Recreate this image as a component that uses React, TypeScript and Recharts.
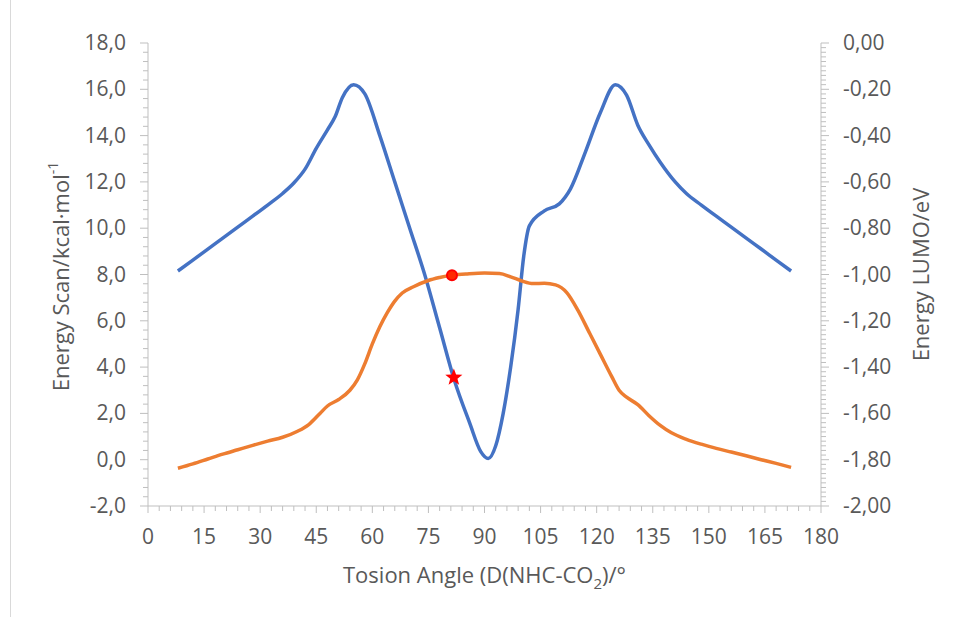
import React from "react";
import {ComposedChart, Line, Scatter, XAxis, YAxis} from "recharts";

// energy scan (left axis), kcal/mol
const scanAngles = [8, 12, 16, 20, 24, 28, 32, 36, 39, 42, 45, 48, 50, 52, 55, 58, 62, 66, 70, 74, 78, 82, 86, 89, 91, 93, 95, 97, 99, 100.5, 102, 106, 110, 113, 117, 121, 125, 128, 131, 134, 137, 141, 144, 148, 152, 156, 160, 164, 168, 172];
const scanEnergy = [8.15, 8.62, 9.1, 9.57, 10.05, 10.52, 11.0, 11.5, 11.95, 12.55, 13.45, 14.25, 14.8, 15.65, 16.2, 15.8, 14.0, 12.0, 10.0, 8.0, 5.7, 3.4, 1.6, 0.35, 0.05, 0.6, 2.0, 4.0, 6.5, 8.8, 10.1, 10.75, 11.05, 11.7, 13.3, 15.0, 16.2, 15.75, 14.45, 13.6, 12.85, 12.0, 11.5, 11.0, 10.52, 10.05, 9.57, 9.1, 8.62, 8.15];

// LUMO energy (right axis), eV
const lumoAngles = [8, 12, 16, 20, 24, 28, 32, 36, 40, 43, 46, 48, 51, 54, 56, 58, 60, 62, 64, 66, 68, 71, 75, 78, 81, 85, 90, 94, 97, 100, 103, 106, 109, 112, 115, 118, 121, 124, 126, 128, 131, 134, 137, 140, 144, 148, 152, 156, 160, 164, 168, 172];
const lumoEnergy = [-1.837, -1.818, -1.797, -1.776, -1.757, -1.738, -1.72, -1.703, -1.677, -1.648, -1.6, -1.568, -1.54, -1.5, -1.455, -1.385, -1.3, -1.226, -1.165, -1.115, -1.08, -1.053, -1.026, -1.013, -1.003, -0.998, -0.994, -0.996, -1.01, -1.028, -1.039, -1.038, -1.045, -1.078, -1.155, -1.25, -1.345, -1.44, -1.5, -1.53, -1.562, -1.61, -1.652, -1.684, -1.712, -1.733, -1.751, -1.767, -1.783, -1.8, -1.816, -1.833];

// highlighted points
const starPoint = [{angle: 81.8, energy: 3.55}];
const circlePoint = [{angle: 81.3, lumo: -1.003}];

const scanData = scanAngles.map((a, i) => ({angle: a, energy: scanEnergy[i]}));
const lumoData = lumoAngles.map((a, i) => ({angle: a, lumo: lumoEnergy[i]}));

const range = (start: number, step: number, n: number) =>
    Array.from({length: n}, (_, i) => Math.round((start + i * step) * 1000) / 1000);

const xTicks = range(0, 3, 61);
const leftTicks = range(-2, 0.4, 51);
const rightTicks = range(-2, 0.02, 101);

const isMajor = (v: number, step: number) => Math.abs(v / step - Math.round(v / step)) < 1e-6;

const AXIS = "#bfbfbf";
const TEXT = "#595959";
const FONT = "'Open Sans', sans-serif";
const GAP = 22;
const TICK_FS = 21;
const TITLE_FS = 22;

const fmt = (v: number, d: number) => (Math.abs(v) < 1e-9 ? 0 : v).toFixed(d).replace(".", ",");

const LeftTick = (props: any) => {
    const {x, y, payload} = props;
    const v = payload.value;
    const major = isMajor(v, 2);
    const ax = x + GAP;
    return (
        <g>
            <line x1={ax} x2={ax - (major ? 8 : 5)} y1={y} y2={y} stroke={AXIS}/>
            {major && <text x={x} y={y} dy={7} textAnchor="end" fill={TEXT} fontSize={TICK_FS} fontFamily={FONT}>{fmt(v, 1)}</text>}
        </g>
    );
};

const RightTick = (props: any) => {
    const {x, y, payload} = props;
    const v = payload.value;
    const major = isMajor(v, 0.2);
    const ax = x - GAP;
    return (
        <g>
            <line x1={ax} x2={ax + (major ? 8 : 5)} y1={y} y2={y} stroke={AXIS}/>
            {major && <text x={x} y={y} dy={7} textAnchor="start" fill={TEXT} fontSize={TICK_FS} fontFamily={FONT}>{fmt(v, 2)}</text>}
        </g>
    );
};

const BottomTick = (props: any) => {
    const {x, y, payload} = props;
    const v = payload.value;
    const major = isMajor(v, 15);
    const ay = y - 24;
    return (
        <g>
            <line x1={x} x2={x} y1={ay} y2={ay + (major ? 7 : 5)} stroke={AXIS}/>
            {major && <text x={x} y={y} dy={14} textAnchor="middle" fill={TEXT} fontSize={TICK_FS} fontFamily={FONT}>{v}</text>}
        </g>
    );
};

const Star = (props: any) => {
    const {cx, cy} = props;
    const pts: string[] = [];
    for (let i = 0; i < 10; i++) {
        const r = i % 2 === 0 ? 9 : 3.8;
        const a = -Math.PI / 2 + i * Math.PI / 5;
        pts.push(`${cx + r * Math.cos(a)},${cy + r * Math.sin(a)}`);
    }
    return <polygon points={pts.join(" ")} fill="#ff0000"/>;
};

const Dot = (props: any) => {
    const {cx, cy} = props;
    return <circle cx={cx} cy={cy} r={5} fill="#ff2a00" stroke="#ff0000" strokeWidth={2}/>;
};

const LeftTitle = (props: any) => {
    const {viewBox} = props;
    const cx = viewBox.x + 40;
    const cy = viewBox.y + viewBox.height / 2 + 2;
    return (
        <text x={cx} y={cy} transform={`rotate(-90, ${cx}, ${cy})`} textAnchor="middle" dominantBaseline="central"
              fill={TEXT} fontSize={TITLE_FS} fontFamily={FONT}>
            Energy Scan/kcal·mol<tspan dy={-8} fontSize={14}>-1</tspan>
        </text>
    );
};

const RightTitle = (props: any) => {
    const {viewBox} = props;
    const cx = viewBox.x + 99;
    const cy = viewBox.y + viewBox.height / 2;
    return (
        <text x={cx} y={cy} transform={`rotate(-90, ${cx}, ${cy})`} textAnchor="middle" dominantBaseline="central"
              fill={TEXT} fontSize={TITLE_FS} fontFamily={FONT}>
            Energy LUMO/eV
        </text>
    );
};

const BottomTitle = (props: any) => {
    const {viewBox} = props;
    const cx = viewBox.x + viewBox.width / 2;
    const cy = viewBox.y + 77;
    return (
        <text x={cx} y={cy} textAnchor="middle" fill={TEXT} fontSize={TITLE_FS} fontFamily={FONT}>
            Tosion Angle (D(NHC-CO<tspan dy={6} fontSize={15}>2</tspan><tspan dy={-6}>)/°</tspan>
        </text>
    );
};

export default function App() {
    return (
        <div style={{position: "absolute", left: 0, top: 0, width: 954, height: 617, background: "#fff"}}>
            <div style={{position: "absolute", left: 10, top: 0, width: 0, height: 617, borderLeft: "1px solid #d9d9d9"}}/>
            <ComposedChart width={954} height={617} margin={{top: 43, right: 53, bottom: 51, left: 20}}>
                <XAxis type="number" dataKey="angle" domain={[0, 180]} ticks={xTicks} interval={0}
                       stroke={AXIS} tickLine={false} tickSize={0} tickMargin={24} height={60}
                       tick={<BottomTick/>} label={<BottomTitle/>} allowDataOverflow/>
                <YAxis yAxisId="left" type="number" domain={[-2, 18]} ticks={leftTicks} interval={0}
                       stroke={AXIS} tickLine={false} tickSize={0} tickMargin={GAP} width={128}
                       tick={<LeftTick/>} label={<LeftTitle/>}/>
                <YAxis yAxisId="right" orientation="right" type="number" domain={[-2, 0]} ticks={rightTicks} interval={0}
                       stroke={AXIS} tickLine={false} tickSize={0} tickMargin={GAP} width={80}
                       tick={<RightTick/>} label={<RightTitle/>}/>
                <Line yAxisId="left" data={scanData} dataKey="energy" type="monotone" stroke="#4472c4" strokeWidth={3.5}
                      dot={false} isAnimationActive={false}/>
                <Line yAxisId="right" data={lumoData} dataKey="lumo" type="monotone" stroke="#ed7d31" strokeWidth={3.5}
                      dot={false} isAnimationActive={false}/>
                <Scatter yAxisId="right" data={circlePoint} dataKey="lumo" shape={<Dot/>} isAnimationActive={false}/>
                <Scatter yAxisId="left" data={starPoint} dataKey="energy" shape={<Star/>} isAnimationActive={false}/>
            </ComposedChart>
        </div>
    );
}
